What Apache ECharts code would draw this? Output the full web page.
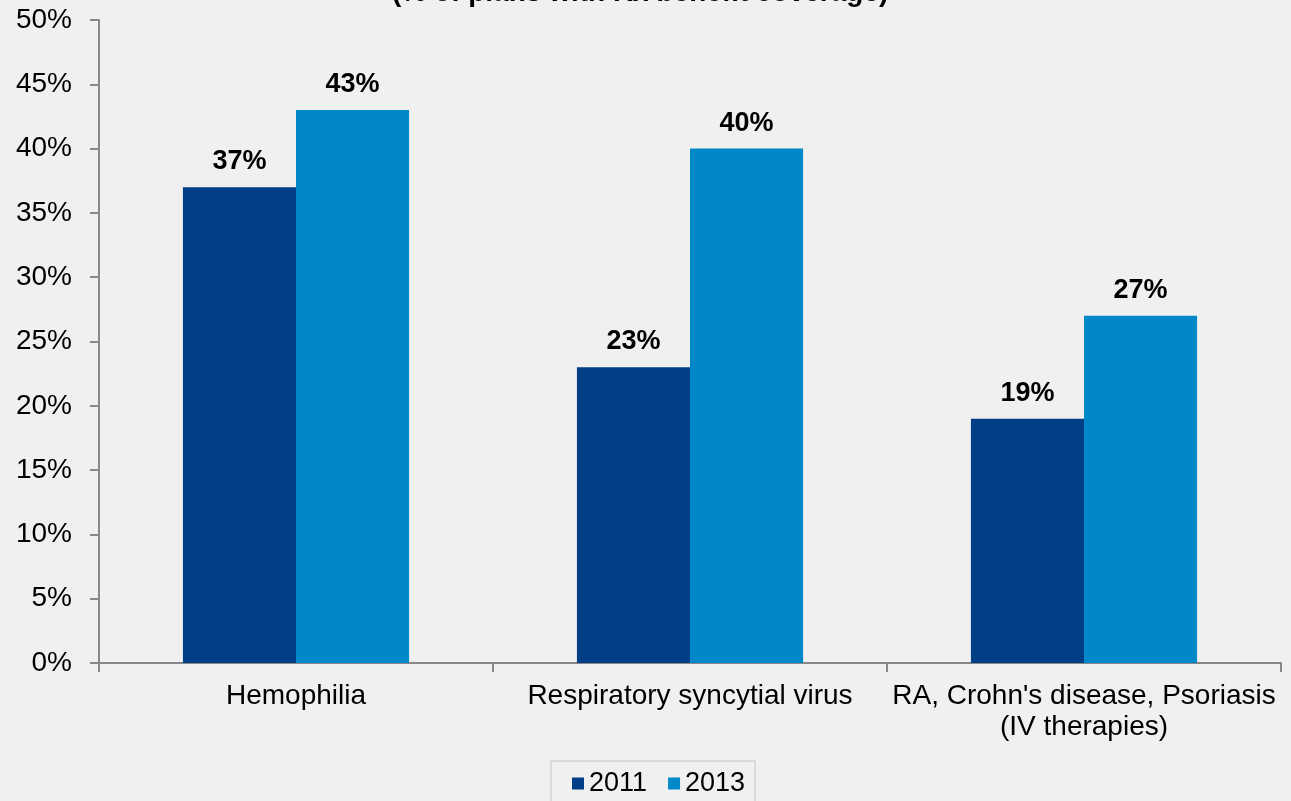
<!DOCTYPE html>
<html><head><meta charset="utf-8">
<script src="https://cdn.jsdelivr.net/npm/echarts@6/dist/echarts.min.js"></script>
<style>html,body{margin:0;padding:0;background:#f0f0f0}#c{width:1291px;height:801px}</style>
</head><body><div id="c"></div>
<script>
const titleText = "(% of plans with Rx benefit coverage)";
const categories = ["Hemophilia", "Respiratory syncytial virus", "RA, Crohn's disease, Psoriasis\n(IV therapies)"];
const seriesNames = ["2011", "2013"];
const values2011 = [37, 23, 19];
const values2013 = [43, 40, 27];
const colors = ["#003f86", "#0088c8"];
const font = "Liberation Sans, Arial, sans-serif";

const chart = echarts.init(document.getElementById('c'), null, {renderer: 'canvas'});
const labelStyle = {show: true, position: 'top', formatter: '{c}%', fontFamily: font, fontWeight: 'bold', fontSize: 27, color: '#000', distance: 12};
chart.setOption({
  backgroundColor: '#f0f0f0',
  animation: false,
  title: {text: titleText, left: 387, top: -26, textStyle: {fontFamily: font, fontWeight: 'bold', fontSize: 28, color: '#000'}},
  legend: {
    data: seriesNames, top: 761, left: 551, itemWidth: 12, itemHeight: 12, itemGap: 21,
    borderColor: '#c4c4c4', borderWidth: 1, padding: [9, 10, 30, 21], icon: 'rect',
    textStyle: {fontFamily: font, fontSize: 27, color: '#000'}
  },
  grid: {left: 99, right: 10, top: 20, bottom: 138, containLabel: false},
  xAxis: {
    type: 'category', data: categories,
    axisLine: {lineStyle: {color: '#888', width: 2}},
    axisTick: {show: true, length: 9, lineStyle: {color: '#888', width: 2}},
    axisLabel: {fontFamily: font, fontSize: 28, color: '#000', margin: 18, lineHeight: 31, interval: 0}
  },
  yAxis: {
    type: 'value', min: 0, max: 50, interval: 5,
    axisLine: {show: true, lineStyle: {color: '#888', width: 2}},
    axisTick: {show: true, length: 9, lineStyle: {color: '#888', width: 2}},
    splitLine: {show: false},
    axisLabel: {formatter: '{value}%', fontFamily: font, fontSize: 28, color: '#000', margin: 27}
  },
  series: [
    {name: seriesNames[0], type: 'bar', data: values2011, itemStyle: {color: colors[0]}, barGap: '0%', barCategoryGap: '42.6%', label: labelStyle},
    {name: seriesNames[1], type: 'bar', data: values2013, itemStyle: {color: colors[1]}, barGap: '0%', barCategoryGap: '42.6%', label: labelStyle}
  ]
});
</script></body></html>
